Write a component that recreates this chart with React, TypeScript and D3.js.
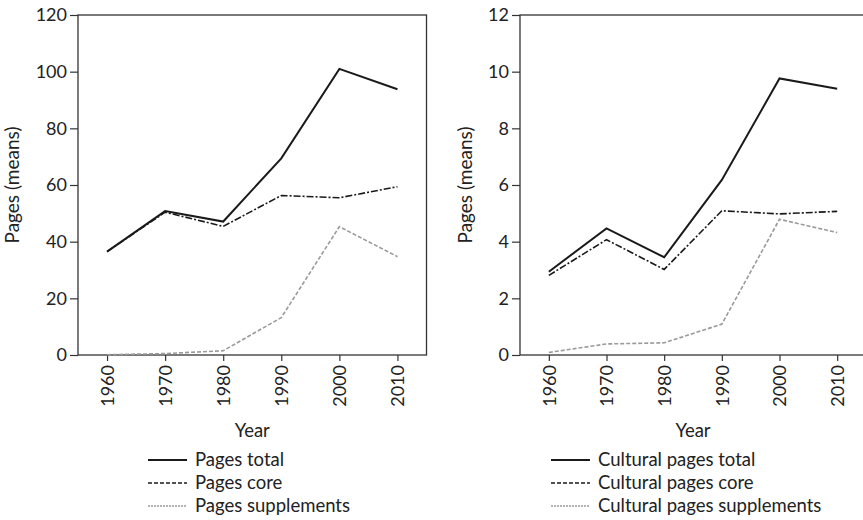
import React, { useEffect, useRef } from "react";
import * as d3 from "d3";

const years = ["1960", "1970", "1980", "1990", "2000", "2010"];

const pagesTotal = [36.5, 50.8, 47.1, 69.4, 101, 93.8];
const pagesCore = [36.5, 50.4, 45.4, 56.3, 55.5, 59.4];
const pagesSupplements = [0.1, 0.5, 1.5, 13.2, 45.3, 34.7];

const culturalTotal = [2.94, 4.47, 3.45, 6.18, 9.76, 9.4];
const culturalCore = [2.81, 4.07, 3.02, 5.09, 4.98, 5.07];
const culturalSupplements = [0.09, 0.39, 0.43, 1.09, 4.79, 4.32];

const leftTicks = [0, 20, 40, 60, 80, 100, 120];
const rightTicks = [0, 2, 4, 6, 8, 10, 12];

const leftLegend = ["Pages total", "Pages core", "Pages supplements"];
const rightLegend = ["Cultural pages total", "Cultural pages core", "Cultural pages supplements"];

const styles = [
  { stroke: "#1a1a1a", width: 2, dash: null },
  { stroke: "#1a1a1a", width: 1.6, dash: "7,2,2,2" },
  { stroke: "#9a9a9a", width: 1.6, dash: "4,2" },
];

const FONT = "Lato, 'Open Sans', sans-serif";
const TEXT = "#222";

export default function App() {
  const ref = useRef<SVGSVGElement>(null);

  useEffect(() => {
    const svg = d3.select(ref.current);
    svg.selectAll("*").remove();

    const drawPanel = (
      left: number,
      right: number,
      yMax: number,
      ticks: number[],
      series: number[][],
      labels: string[],
      yLabelX: number,
      legendX: number
    ) => {
      const top = 15;
      const bottom = 355;

      const x = d3.scalePoint<string>().domain(years).range([left, right]).padding(0.5);
      const y = d3.scaleLinear().domain([0, yMax]).range([bottom, top]);

      const g = svg.append("g");

      // frame
      g.append("rect")
        .attr("x", left)
        .attr("y", top)
        .attr("width", right - left)
        .attr("height", bottom - top)
        .attr("fill", "none")
        .attr("stroke", "#333")
        .attr("stroke-width", 1.3);

      // y axis
      const yAxis = g.append("g")
        .attr("transform", `translate(${left},0)`)
        .call(d3.axisLeft(y).tickValues(ticks).tickSize(8).tickPadding(3));
      yAxis.select(".domain").remove();
      yAxis.selectAll("line").attr("stroke", "#333").attr("stroke-width", 1.2);
      yAxis.selectAll("text")
        .style("font-family", FONT)
        .style("font-size", "18px")
        .attr("fill", TEXT);

      // x axis
      const xAxis = g.append("g")
        .attr("transform", `translate(0,${bottom})`)
        .call(d3.axisBottom(x).tickSize(6).tickPadding(4));
      xAxis.select(".domain").remove();
      xAxis.selectAll("line").attr("stroke", "#333").attr("stroke-width", 1.2);
      xAxis.selectAll("text")
        .style("font-family", FONT)
        .style("font-size", "18px")
        .attr("fill", TEXT)
        .attr("transform", "rotate(-90)")
        .attr("text-anchor", "end")
        .attr("x", -10)
        .attr("y", 0)
        .attr("dy", "0.35em");

      // lines
      const line = d3.line<number>()
        .x((_, i) => x(years[i]) as number)
        .y((d) => y(d));

      series.forEach((s, i) => {
        g.append("path")
          .datum(s)
          .attr("d", line)
          .attr("fill", "none")
          .attr("stroke", styles[i].stroke)
          .attr("stroke-width", styles[i].width)
          .attr("stroke-dasharray", styles[i].dash)
          .attr("stroke-linejoin", "miter");
      });

      // y label
      g.append("text")
        .attr("transform", `translate(${yLabelX},${(top + bottom) / 2}) rotate(-90)`)
        .attr("text-anchor", "middle")
        .style("font-family", FONT)
        .style("font-size", "19px")
        .attr("fill", TEXT)
        .text("Pages (means)");

      // x label
      g.append("text")
        .attr("x", (left + right) / 2)
        .attr("y", 437)
        .attr("text-anchor", "middle")
        .style("font-family", FONT)
        .style("font-size", "18.5px")
        .attr("fill", TEXT)
        .text("Year");

      // legend
      labels.forEach((lab, i) => {
        const cy = 460 + i * 23;
        g.append("line")
          .attr("x1", legendX)
          .attr("x2", legendX + 39)
          .attr("y1", cy)
          .attr("y2", cy)
          .attr("stroke", styles[i].stroke)
          .attr("stroke-width", i === 0 ? 1.8 : 1.5)
          .attr("stroke-dasharray", i === 1 ? "4,2" : i === 2 ? "2,1" : null);
        g.append("text")
          .attr("x", legendX + 47)
          .attr("y", cy)
          .attr("dy", "0.35em")
          .style("font-family", FONT)
          .style("font-size", "18.5px")
          .attr("fill", TEXT)
          .text(lab);
      });
    };

    drawPanel(78, 426.5, 120, leftTicks, [pagesTotal, pagesCore, pagesSupplements], leftLegend, 19, 148);
    drawPanel(520, 866, 12, rightTicks, [culturalTotal, culturalCore, culturalSupplements], rightLegend, 472, 551);
  }, []);

  return (
    <svg
      ref={ref}
      width={863}
      height={520}
      style={{ position: "absolute", left: 0, top: 0, background: "#fff" }}
    />
  );
}
